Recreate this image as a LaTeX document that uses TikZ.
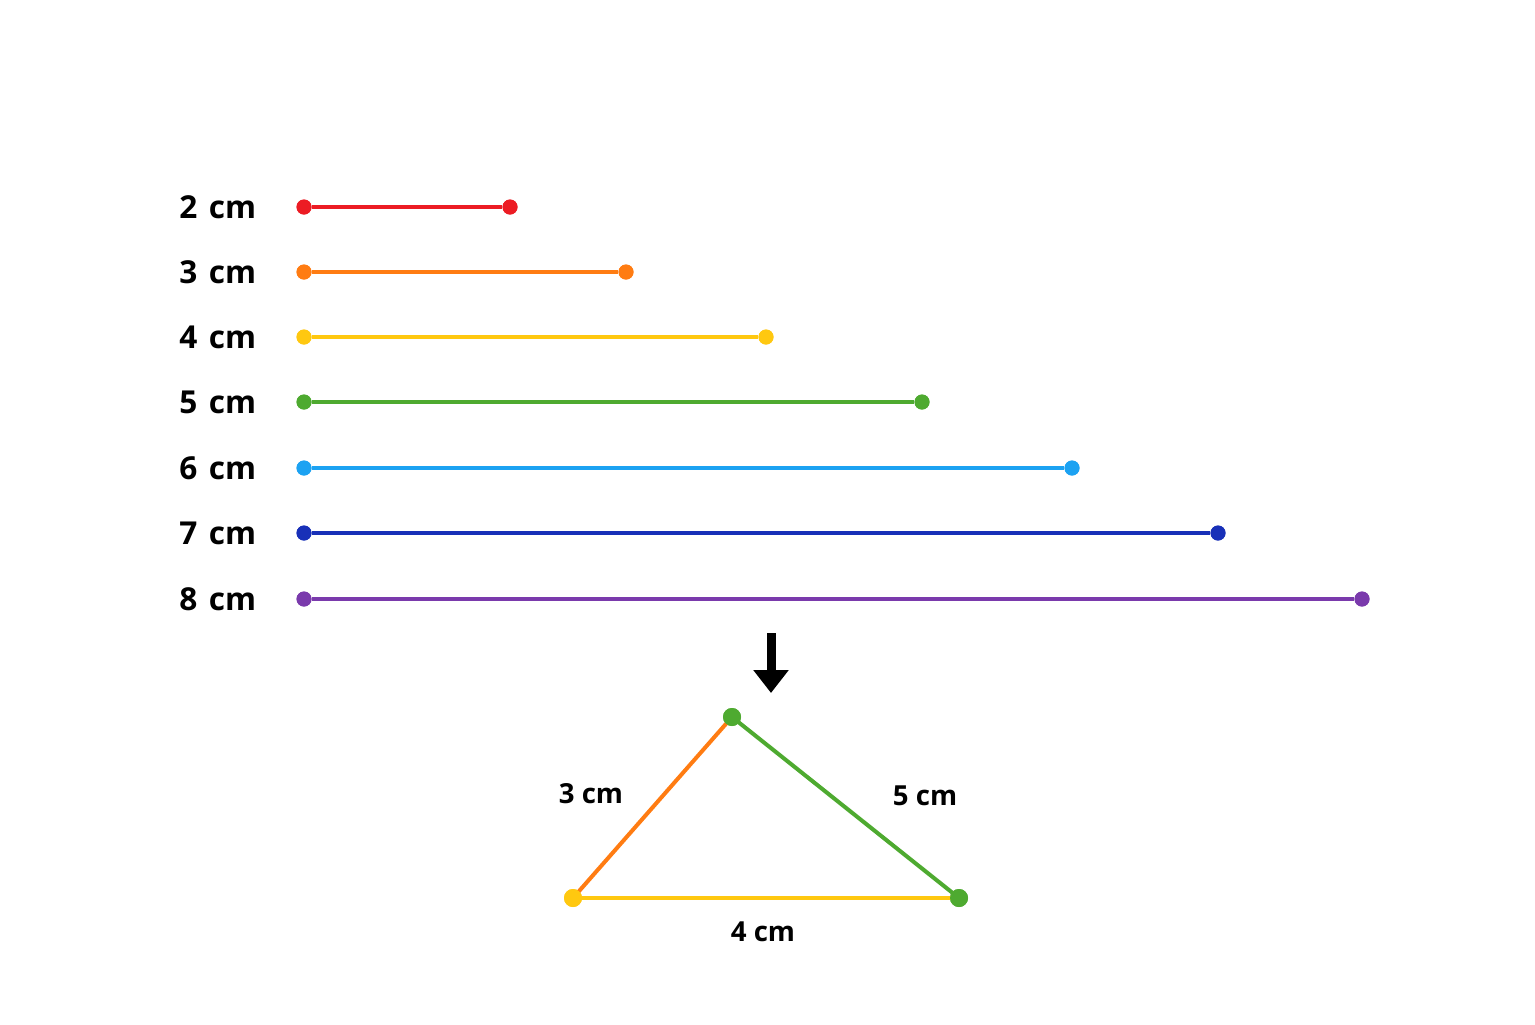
\documentclass[tikz,border=0pt]{standalone}
\usepackage{fontspec}
\setmainfont{Open Sans}
\usetikzlibrary{arrows.meta}
\definecolor{cred}{RGB}{236,28,36}
\definecolor{corange}{RGB}{255,124,18}
\definecolor{cyellow}{RGB}{255,200,16}
\definecolor{cgreen}{RGB}{78,170,48}
\definecolor{cblue}{RGB}{28,162,242}
\definecolor{cdblue}{RGB}{24,48,184}
\definecolor{cpurple}{RGB}{122,58,172}
\tikzset{
  dot/.style={circle,fill=#1,inner sep=0pt,minimum size=7.5pt},
  tdot/.style={circle,fill=#1,inner sep=0pt,minimum size=9pt},
  seg/.style={line width=2pt,draw=#1},
  lab/.style={font=\fontsize{15.8}{18}\selectfont\bfseries,anchor=west,inner sep=0pt},
  tlab/.style={font=\fontsize{13.8}{16}\selectfont\bfseries,inner sep=0pt},
}
\begin{document}
\begin{tikzpicture}[x=0.5pt,y=-0.5pt]
\useasboundingbox[fill=white] (0,0) rectangle (1535,1024);
% segments
\foreach \n/\c/\y/\xe in {2/cred/207/510,3/corange/272/626,4/cyellow/337/766,5/cgreen/402/922,6/cblue/468/1072,7/cdblue/533/1218,8/cpurple/599/1362}{
  \node[lab] (l\n) at (179,\y) {\n\hspace{0.36em}cm};
  \node[dot=\c] (a\n) at (304,\y) {};
  \node[dot=\c] (b\n) at (\xe,\y) {};
  \draw[seg=\c] (a\n) -- (b\n);
  \node[dot=\c] at (a\n) {};
  \node[dot=\c] at (b\n) {};
}
% arrow
\coordinate (arrS) at (771,633);
\coordinate (arrE) at (771,693);
\draw[line width=4.5pt,-{Triangle[length=11.5pt,width=17pt]}] (arrS) -- (arrE);
% triangle
\node[tdot=cgreen] (tA) at (732,717) {};
\node[tdot=cyellow] (tB) at (573,898) {};
\node[tdot=cgreen] (tC) at (959,898) {};
\draw[seg=corange] (tB.center) -- (tA.center);
\draw[seg=cgreen] (tA.center) -- (tC.center);
\draw[seg=cyellow] (tB.center) -- (tC.center);
\node[tdot=cgreen] at (tA) {};
\node[tdot=cyellow] at (tB) {};
\node[tdot=cgreen] at (tC) {};
\node[tlab] (t3) at (591,794) {3 cm};
\node[tlab] (t5) at (925,796) {5 cm};
\node[tlab] (t4) at (763,932) {4 cm};
\end{tikzpicture}
\end{document}
